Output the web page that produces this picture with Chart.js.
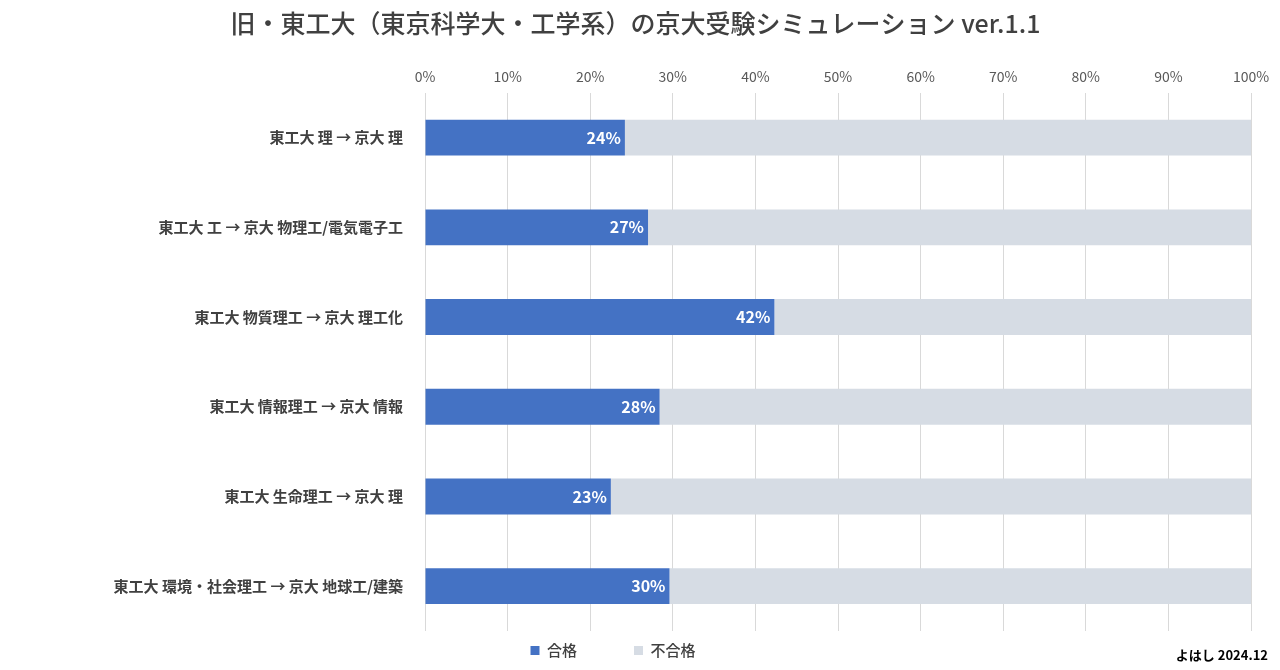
<!DOCTYPE html>
<html>
<head>
<meta charset="utf-8">
<script src="https://cdn.jsdelivr.net/npm/chart.js@4"></script>
<style>
  body { margin: 0; background: #fff; }
  #wrap { position: relative; width: 1280px; height: 670px; }
  #note { position: absolute; right: 12px; bottom: 6px; font: bold 13px "Noto Sans CJK JP"; color: #000; }
</style>
</head>
<body>
<div id="wrap">
  <canvas id="chart" width="1280" height="670"></canvas>
  <div id="note">よはし 2024.12</div>
</div>
<script>
const categories = [
  "東工大 理 → 京大 理",
  "東工大 工 → 京大 物理工/電気電子工",
  "東工大 物質理工 → 京大 理工化",
  "東工大 情報理工 → 京大 情報",
  "東工大 生命理工 → 京大 理",
  "東工大 環境・社会理工 → 京大 地球工/建築"
];
const passRate = [24.2, 27.0, 42.3, 28.4, 22.5, 29.6];
const failRate = passRate.map(v => 100 - v);

const font = "'Noto Sans CJK JP', 'Noto Sans', sans-serif";

// 合格バーの右端に白字で割合を書く
const barLabels = {
  id: "barLabels",
  afterDatasetsDraw(chart) {
    const ctx = chart.ctx;
    const meta = chart.getDatasetMeta(0);
    ctx.save();
    ctx.font = "bold 16px " + font;
    ctx.fillStyle = "#fff";
    ctx.textAlign = "right";
    ctx.textBaseline = "middle";
    meta.data.forEach((bar, i) => {
      ctx.fillText(Math.round(passRate[i]) + "%", bar.x - 4, bar.y);
    });
    ctx.restore();
  }
};

new Chart(document.getElementById("chart"), {
  type: "bar",
  data: {
    labels: categories,
    datasets: [
      { label: "合格", data: passRate, backgroundColor: "#4472c4", barPercentage: 0.4, categoryPercentage: 1 },
      { label: "不合格", data: failRate, backgroundColor: "#d6dce4", barPercentage: 0.4, categoryPercentage: 1 }
    ]
  },
  options: {
    indexAxis: "y",
    responsive: false,
    animation: false,
    layout: { padding: { left: 20, right: 29, top: 0, bottom: 2 } },
    scales: {
      x: {
        stacked: true, position: "top", min: 0, max: 100,
        ticks: { stepSize: 10, callback: v => v + "%", color: "#595959", font: { family: font, size: 14 }, padding: 8 },
        grid: { color: "#d9d9d9", drawTicks: false },
        border: { display: false }
      },
      y: {
        stacked: true,
        afterFit: s => { s.width = 405; },
        ticks: { color: "#404040", font: { family: font, size: 15, weight: "bold" }, padding: 14 },
        grid: { display: false },
        border: { display: false }
      }
    },
    plugins: {
      title: {
        display: true,
        text: "旧・東工大（東京科学大・工学系）の京大受験シミュレーション ver.1.1",
        color: "#404040",
        font: { family: font, size: 25, weight: "500" },
        padding: { top: 8, bottom: 22 }
      },
      legend: {
        position: "bottom",
        labels: {
          boxWidth: 9, boxHeight: 9, color: "#404040", font: { family: font, size: 15, weight: "500" }, padding: 12,
          generateLabels: chart => Chart.defaults.plugins.legend.labels.generateLabels(chart)
            .map(l => ({ ...l, text: l.text + "\u3000\u3000\u3000" }))
        }
      },
      tooltip: { enabled: false }
    }
  },
  plugins: [barLabels]
});
</script>
</body>
</html>
